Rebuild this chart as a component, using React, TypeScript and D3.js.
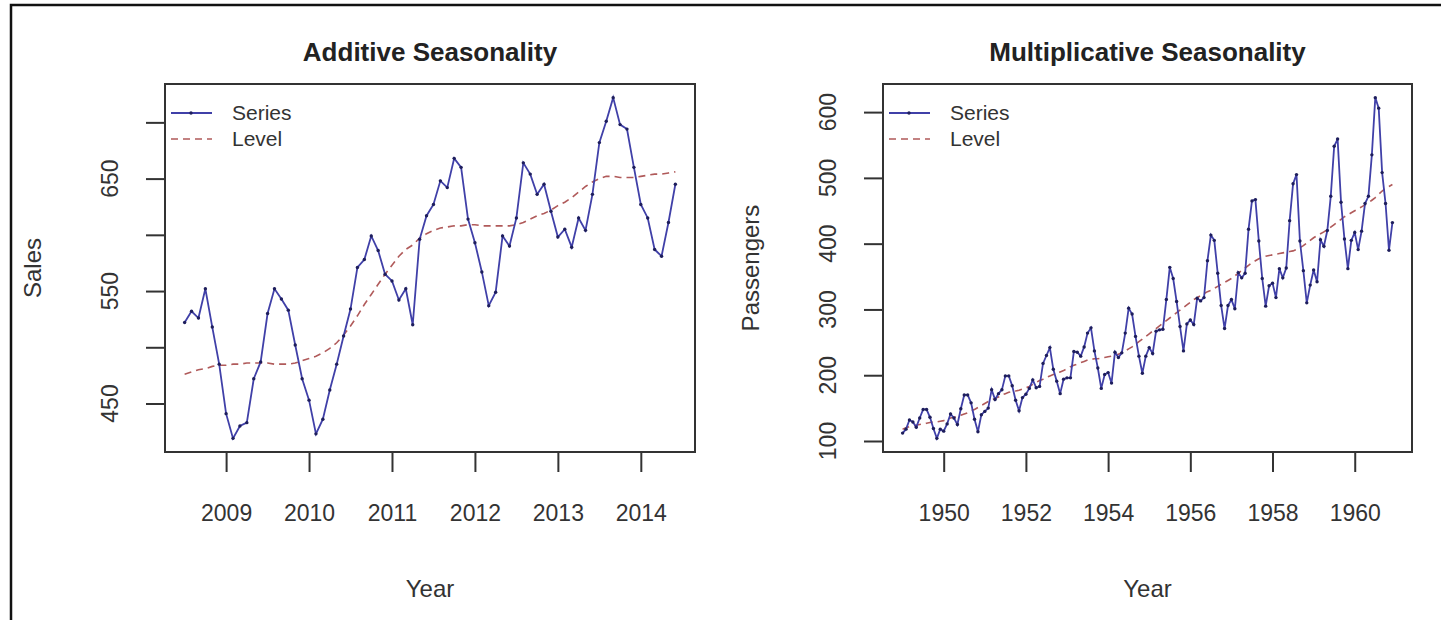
import React, { useRef, useEffect } from "react";
import * as d3 from "d3";

// monthly sales, Jul 2008 - Jun 2014
const salesStart = 2008.5;
const salesSeries = [
  522, 532, 526, 552, 518, 485, 441, 419, 430, 433, 472, 487,
  530, 552, 543, 533, 502, 472, 453, 423, 436, 462, 485, 510,
  534, 571, 578, 599, 586, 565, 559, 542, 552, 520, 596, 617,
  627, 648, 642, 668, 660, 614, 593, 567, 537, 549, 599, 590,
  615, 664, 654, 636, 645, 621, 598, 605, 589, 615, 604, 636,
  682, 701, 722, 698, 694, 660, 627, 615, 587, 581, 611, 645,
];
const salesLevel = [
  476, 478, 480, 481, 483, 484, 484, 485, 485, 486, 486, 486,
  486, 485, 485, 485, 486, 488, 490, 492, 495, 499, 504, 511,
  519, 528, 538, 547, 556, 565, 573, 581, 587, 591, 597, 601,
  604, 606, 607, 608, 608, 609, 609, 608, 608, 608, 608, 608,
  609, 611, 614, 617, 619, 622, 626, 629, 633, 638, 643, 647,
  650, 652, 652, 651, 651, 651, 652, 653, 654, 654, 655, 656,
];
const salesTicksX = [2009, 2010, 2011, 2012, 2013, 2014];
const salesTicksY = [450, 500, 550, 600, 650, 700];
const salesLabelsY = [450, 550, 650];

// monthly air passengers, Jan 1949 - Dec 1960
const passStart = 1949;
const passengers = [
  112, 118, 132, 129, 121, 135, 148, 148, 136, 119, 104, 118,
  115, 126, 141, 135, 125, 149, 170, 170, 158, 133, 114, 140,
  145, 150, 178, 163, 172, 178, 199, 199, 184, 162, 146, 166,
  171, 180, 193, 181, 183, 218, 230, 242, 209, 191, 172, 194,
  196, 196, 236, 235, 229, 243, 264, 272, 237, 211, 180, 201,
  204, 188, 235, 227, 234, 264, 302, 293, 259, 229, 203, 229,
  242, 233, 267, 269, 270, 315, 364, 347, 312, 274, 237, 278,
  284, 277, 317, 313, 318, 374, 413, 405, 355, 306, 271, 306,
  315, 301, 356, 348, 355, 422, 465, 467, 404, 347, 305, 336,
  340, 318, 362, 348, 363, 435, 491, 505, 404, 359, 310, 337,
  360, 342, 406, 396, 420, 472, 548, 559, 463, 407, 362, 405,
  417, 391, 419, 461, 472, 535, 622, 606, 508, 461, 390, 432,
];
const passLevel = [
  118, 120, 122, 123, 124, 125, 126, 127, 128, 129, 129, 130,
  131, 133, 135, 136, 137, 139, 141, 143, 146, 148, 151, 154,
  157, 160, 162, 165, 167, 170, 172, 174, 175, 176, 177, 179,
  181, 183, 186, 189, 192, 194, 197, 199, 201, 203, 205, 207,
  210, 213, 215, 217, 219, 221, 223, 224, 225, 225, 226, 227,
  228, 229, 230, 232, 234, 237, 240, 243, 247, 251, 255, 259,
  263, 267, 271, 275, 279, 283, 287, 291, 295, 299, 303, 307,
  311, 315, 318, 321, 324, 327, 329, 332, 335, 338, 341, 344,
  347, 351, 355, 359, 363, 367, 371, 374, 377, 379, 381, 382,
  383, 384, 385, 386, 387, 388, 389, 391, 394, 397, 401, 405,
  409, 412, 415, 418, 421, 425, 429, 433, 437, 441, 444, 447,
  450, 453, 456, 459, 462, 466, 470, 475, 480, 484, 487, 490,
];
const passTicksX = [1950, 1952, 1954, 1956, 1958, 1960];
const passTicksY = [100, 200, 300, 400, 500, 600];

const legendLabels = ["Series", "Level"];

const seriesColor = "#4040a8";
const pointColor = "#1e1e5c";
const levelColor = "#b05a5a";
const inkColor = "#333";
const font = "'Liberation Sans', Arial, sans-serif";

type Panel = {
  left: number;
  right: number;
  title: string;
  yTitle: string;
  start: number;
  series: number[];
  level: number[];
  ticksX: number[];
  ticksY: number[];
  labelsY: number[];
};

const panels: Panel[] = [
  {
    left: 165, right: 695, title: "Additive Seasonality", yTitle: "Sales",
    start: salesStart, series: salesSeries, level: salesLevel,
    ticksX: salesTicksX, ticksY: salesTicksY, labelsY: salesLabelsY,
  },
  {
    left: 883, right: 1412, title: "Multiplicative Seasonality", yTitle: "Passengers",
    start: passStart, series: passengers, level: passLevel,
    ticksX: passTicksX, ticksY: passTicksY, labelsY: passTicksY,
  },
];

// R-style axis range: data extent widened by 4% on each side
const padded = (ext: [number, number]): [number, number] => {
  const d = (ext[1] - ext[0]) * 0.04;
  return [ext[0] - d, ext[1] + d];
};

const App = () => {
  const ref = useRef<SVGSVGElement>(null);

  useEffect(() => {
    const top = 84;
    const bottom = 452;
    const svg = d3.select(ref.current);
    svg.selectAll("*").remove();

    // outer frame (left + top edges only are visible)
    svg.append("path")
      .attr("d", "M11,620 L11,5 L1441,5")
      .attr("fill", "none")
      .attr("stroke", "#111")
      .attr("stroke-width", 2.5);

    panels.forEach((p) => {
      const times = p.series.map((_, i) => p.start + i / 12);
      const x = d3.scaleLinear()
        .domain(padded(d3.extent(times) as [number, number]))
        .range([p.left, p.right]);
      const y = d3.scaleLinear()
        .domain(padded(d3.extent(p.series) as [number, number]))
        .range([bottom, top]);

      const g = svg.append("g");

      // level (dashed)
      const line = d3.line<number>()
        .x((_, i) => x(p.start + i / 12))
        .y((d) => y(d));

      g.append("path")
        .datum(p.level)
        .attr("fill", "none")
        .attr("stroke", levelColor)
        .attr("stroke-width", 1.6)
        .attr("stroke-dasharray", "7,5")
        .attr("d", line);

      g.append("path")
        .datum(p.series)
        .attr("fill", "none")
        .attr("stroke", seriesColor)
        .attr("stroke-width", 1.8)
        .attr("d", line);

      g.selectAll("circle.pt")
        .data(p.series)
        .join("circle")
        .attr("class", "pt")
        .attr("cx", (_, i) => x(p.start + i / 12))
        .attr("cy", (d) => y(d))
        .attr("r", 1.7)
        .attr("fill", pointColor);

      // plot box
      g.append("rect")
        .attr("x", p.left)
        .attr("y", top)
        .attr("width", p.right - p.left)
        .attr("height", bottom - top)
        .attr("fill", "none")
        .attr("stroke", inkColor)
        .attr("stroke-width", 2);

      // x axis
      const xa = g.append("g").attr("transform", `translate(0,${bottom})`);
      xa.call(d3.axisBottom(x).tickValues(p.ticksX).tickFormat(d3.format("d")).tickSize(20).tickPadding(33));
      xa.select(".domain").remove();
      xa.selectAll("line").attr("stroke", inkColor).attr("stroke-width", 2);
      xa.selectAll("text")
        .attr("font-family", font)
        .attr("font-size", 23)
        .attr("fill", "#333");

      // y axis (rotated labels, R style)
      const ya = g.append("g").attr("transform", `translate(${p.left},0)`);
      ya.call(d3.axisLeft(y).tickValues(p.ticksY).tickSize(19).tickFormat(() => ""));
      ya.select(".domain").remove();
      ya.selectAll("line").attr("stroke", inkColor).attr("stroke-width", 2);
      p.labelsY.forEach((v) => {
        g.append("text")
          .attr("transform", `translate(${p.left - 47},${y(v)}) rotate(-90)`)
          .attr("text-anchor", "middle")
          .attr("font-family", font)
          .attr("font-size", 23)
          .attr("fill", "#333")
          .text(v);
      });

      const cx = (p.left + p.right) / 2;
      g.append("text")
        .attr("x", cx)
        .attr("y", 61)
        .attr("text-anchor", "middle")
        .attr("font-family", font)
        .attr("font-weight", "bold")
        .attr("font-size", 26)
        .attr("fill", "#222")
        .text(p.title);

      g.append("text")
        .attr("x", cx)
        .attr("y", 597)
        .attr("text-anchor", "middle")
        .attr("font-family", font)
        .attr("font-size", 24)
        .attr("fill", "#333")
        .text("Year");

      g.append("text")
        .attr("transform", `translate(${p.left - 124},${(top + bottom) / 2}) rotate(-90)`)
        .attr("text-anchor", "middle")
        .attr("font-family", font)
        .attr("font-size", 24)
        .attr("fill", "#333")
        .text(p.yTitle);

      // legend, no box
      legendLabels.forEach((label, i) => {
        const ly = top + 29 + i * 26;
        g.append("line")
          .attr("x1", p.left + 6)
          .attr("x2", p.left + 47)
          .attr("y1", ly)
          .attr("y2", ly)
          .attr("stroke", i === 0 ? seriesColor : levelColor)
          .attr("stroke-width", i === 0 ? 1.8 : 1.6)
          .attr("stroke-dasharray", i === 0 ? null : "7,5");
        if (i === 0) {
          g.append("circle")
            .attr("cx", p.left + 26)
            .attr("cy", ly)
            .attr("r", 1.7)
            .attr("fill", pointColor);
        }
        g.append("text")
          .attr("x", p.left + 67)
          .attr("y", ly + 7)
          .attr("font-family", font)
          .attr("font-size", 21)
          .attr("fill", "#333")
          .text(label);
      });
    });
  }, []);

  return (
    <svg
      ref={ref}
      width={1441}
      height={620}
      style={{ position: "absolute", left: 0, top: 0, background: "#fff" }}
    />
  );
};

export default App;
